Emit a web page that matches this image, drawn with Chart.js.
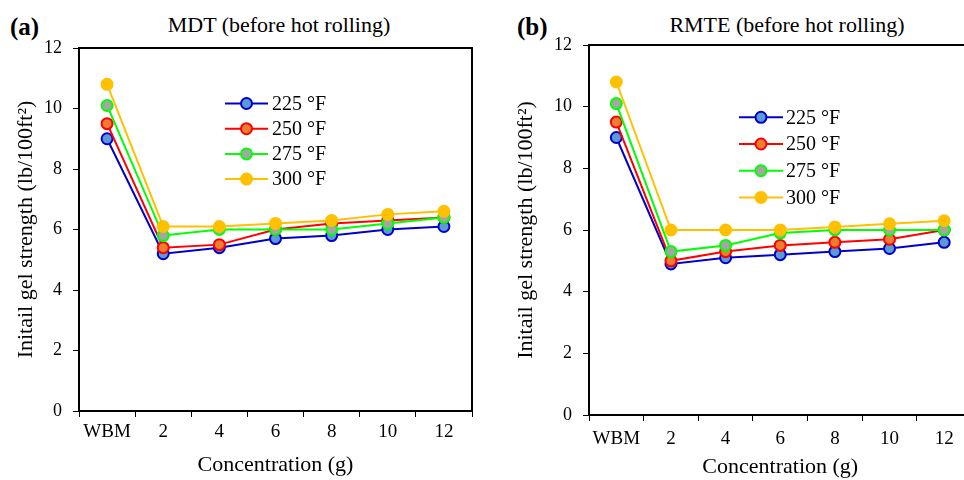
<!DOCTYPE html>
<html><head><meta charset="utf-8">
<script src="https://cdn.jsdelivr.net/npm/chart.js@4.4.0/dist/chart.umd.min.js"></script>
<style>
html,body{margin:0;padding:0;background:#fff;width:964px;height:480px;overflow:hidden;position:relative;font-family:"Liberation Serif","Times New Roman",serif;color:#000;}
.cv{position:absolute;top:0;}
.lbl{position:absolute;white-space:nowrap;color:#000;line-height:1;}
.ttl{transform:translateX(-50%);font-size:22px;}
.tag{font-size:25px;font-weight:bold;}
</style></head><body>
<div class="lbl tag" style="left:10px;top:14px">(a)</div>
<div class="lbl ttl" style="left:279px;top:14px">MDT (before hot rolling)</div>
<div class="lbl tag" style="left:517px;top:14px">(b)</div>
<div class="lbl ttl" style="left:787px;top:14px">RMTE (before hot rolling)</div>
<canvas id="c1" class="cv" style="left:0px" width="490" height="480"></canvas>
<canvas id="c2" class="cv" style="left:510px" width="480" height="480"></canvas>
<script>
const categories = ['WBM', '2', '4', '6', '8', '10', '12'];
const seriesLabels = ['225 °F', '250 °F', '275 °F', '300 °F'];
const mdt225 = [9.0, 5.2, 5.4, 5.7, 5.8, 6.0, 6.1];
const mdt250 = [9.5, 5.4, 5.5, 6.0, 6.2, 6.3, 6.4];
const mdt275 = [10.1, 5.8, 6.0, 6.0, 6.0, 6.2, 6.4];
const mdt300 = [10.8, 6.1, 6.1, 6.2, 6.3, 6.5, 6.6];
const rmte225 = [9.0, 4.9, 5.1, 5.2, 5.3, 5.4, 5.6];
const rmte250 = [9.5, 5.0, 5.3, 5.5, 5.6, 5.7, 6.0];
const rmte275 = [10.1, 5.3, 5.5, 5.9, 6.0, 6.0, 6.0];
const rmte300 = [10.8, 6.0, 6.0, 6.0, 6.1, 6.2, 6.3];
const yMin = 0, yMax = 12, yStep = 2;
const xTitle = 'Concentration (g)';
const yTitle = 'Initail gel strength (lb/100ft\u00B2)';

const lineColors = ['#0000CC', '#FF0000', '#00FF00', '#FFC000'];
const fillColors = ['#5B9BD5', '#ED7D31', '#A5A5A5', '#FFC000'];

Chart.defaults.font.family = '"Liberation Serif", "Times New Roman", serif';
Chart.defaults.color = '#000';

const boxPlugin = {
  id: 'box',
  afterDraw(chart) {
    const a = chart.chartArea, ctx = chart.ctx;
    ctx.save();
    ctx.strokeStyle = '#000'; ctx.lineWidth = 2;
    ctx.strokeRect(a.left, a.top, a.right - a.left, a.bottom - a.top);
    ctx.restore();
  }
};
const legendPlugin = {
  id: 'insideLegend',
  afterDatasetsDraw(chart, args, o) {
    const ctx = chart.ctx;
    ctx.save();
    chart.data.datasets.forEach((ds, i) => {
      const y = o.y + i * o.gap;
      ctx.strokeStyle = ds.borderColor; ctx.lineWidth = 2;
      ctx.beginPath(); ctx.moveTo(o.x1, y); ctx.lineTo(o.x2, y); ctx.stroke();
      ctx.beginPath(); ctx.arc((o.x1 + o.x2) / 2, y, 5.5, 0, Math.PI * 2);
      ctx.fillStyle = ds.pointBackgroundColor; ctx.fill();
      ctx.lineWidth = 2; ctx.strokeStyle = ds.pointBorderColor; ctx.stroke();
      ctx.fillStyle = '#000'; ctx.font = '20px "Liberation Serif"';
      ctx.textBaseline = 'middle'; ctx.textAlign = 'left';
      ctx.fillText(ds.label, o.tx, y + 1);
    });
    ctx.restore();
  }
};

function makeDatasets(arrs) {
  return arrs.map((d, i) => ({
    label: seriesLabels[i],
    data: d,
    borderColor: lineColors[i],
    backgroundColor: fillColors[i],
    pointBackgroundColor: fillColors[i],
    pointBorderColor: lineColors[i],
    pointRadius: 5.5,
    pointBorderWidth: 2,
    borderWidth: 2,
    tension: 0,
    order: 3 - i
  }));
}

function makeChart(id, arrs, cfg) {
  return new Chart(document.getElementById(id), {
    type: 'line',
    data: { labels: categories, datasets: makeDatasets(arrs) },
    plugins: [boxPlugin, legendPlugin],
    options: {
      responsive: false,
      animation: false,
      layout: { padding: { top: cfg.top, right: cfg.right, left: 0, bottom: 0 } },
      plugins: {
        legend: { display: false },
        tooltip: { enabled: false },
        insideLegend: cfg.legend
      },
      scales: {
        x: {
          type: 'category',
          offset: true,
          afterFit: (s) => { s.height = cfg.xh; },
          grid: { display: true, drawOnChartArea: false, offset: true, tickLength: 6, tickColor: '#000', tickWidth: 1 },
          border: { display: true, color: '#000', width: 2 },
          ticks: { font: { size: 19 }, padding: cfg.xpad, color: '#000', maxRotation: 0, autoSkip: false },
          title: { display: true, text: xTitle, font: { size: 22 }, padding: { top: 0, bottom: cfg.xtpad }, color: '#000' }
        },
        y: {
          min: yMin, max: yMax,
          afterFit: (s) => { s.width = 79; },
          grid: { display: true, drawOnChartArea: false, tickLength: 6, tickColor: '#000', tickWidth: 1 },
          border: { display: true, color: '#000', width: 2 },
          ticks: { stepSize: yStep, font: { size: 18 }, padding: 11, color: '#000' },
          title: { display: true, text: yTitle, font: { size: 22 }, padding: { top: cfg.ytpad, bottom: 0 }, color: '#000' }
        }
      }
    }
  });
}

makeChart('c1', [mdt225, mdt250, mdt275, mdt300], {
  top: 48, right: 18, xh: 69, xpad: 4, xtpad: 2, ytpad: 13,
  legend: { x1: 225, x2: 268, tx: 272, y: 103.5, gap: 25.2 }
});
makeChart('c2', [rmte225, rmte250, rmte275, rmte300], {
  top: 45, right: 18.5, xh: 65, xpad: 7, xtpad: 0, ytpad: 3,
  legend: { x1: 229, x2: 273, tx: 276, y: 117.3, gap: 26.7 }
});
</script>
</body></html>
